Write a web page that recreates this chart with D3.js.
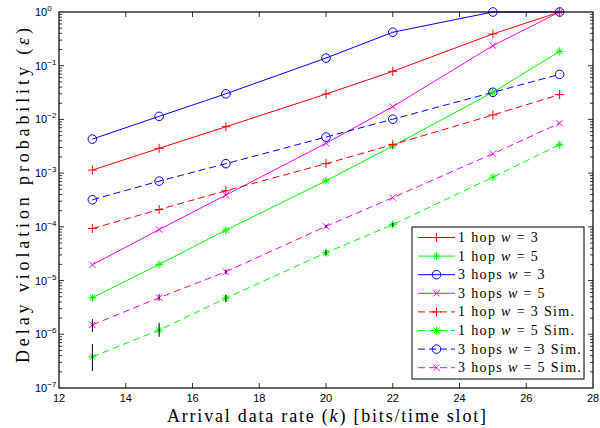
<!DOCTYPE html>
<html><head><meta charset="utf-8">
<script src="https://cdn.jsdelivr.net/npm/d3@7"></script>
<style>body{margin:0;background:#fff}svg{display:block}</style>
</head><body>
<svg id="c" width="600" height="428"></svg>
<script>
const rates = [13, 15, 17, 20, 22, 25, 27];
const oneHopW3 = [1.14e-3, 2.9e-3, 7.3e-3, 0.0297, 0.0785, 0.39, 1.0];
const oneHopW5 = [4.8e-6, 2.0e-5, 8.7e-5, 7.2e-4, 3.2e-3, 0.032, 0.185];
const threeHopsW3 = [4.3e-3, 0.0114, 0.030, 0.139, 0.42, 1.0, 1.0];
const threeHopsW5 = [1.97e-5, 8.9e-5, 3.9e-4, 3.6e-3, 0.0173, 0.236, 1.0];
const oneHopW3Sim = [9.3e-5, 2.1e-4, 4.7e-4, 1.5e-3, 3.4e-3, 0.0121, 0.029];
const oneHopW5Sim = [3.8e-7, 1.2e-6, 4.7e-6, 3.3e-5, 1.1e-4, 8.4e-4, 3.4e-3];
const threeHopsW3Sim = [3.2e-4, 7.1e-4, 1.5e-3, 4.7e-3, 0.0101, 0.032, 0.069];
const threeHopsW5Sim = [1.5e-6, 4.8e-6, 1.46e-5, 1.02e-4, 3.5e-4, 2.3e-3, 8.5e-3];
// error bars [low, high] for simulation series (null = not visible)
const oneHopW5SimErr = [[2.07e-7, 6.6e-7], [9.0e-7, 1.64e-6], [4.0e-6, 5.4e-6], [2.95e-5, 3.7e-5], [1.0e-4, 1.2e-4], null, null];
const threeHopsW5SimErr = [[1.11e-6, 1.92e-6], [4.2e-6, 5.6e-6], [1.3e-5, 1.6e-5], [0.95e-4, 1.09e-4], null, null, null];
const xTicks = [12, 14, 16, 18, 20, 22, 24, 26, 28];
const yExps = [0, -1, -2, -3, -4, -5, -6, -7];
const legendLabels = ["1 hop|3", "1 hop|5", "3 hops|3", "3 hops|5", "1 hop|3| Sim.", "1 hop|5| Sim.", "3 hops|3| Sim.", "3 hops|5| Sim."];

const series = [
  {v: oneHopW3, c: "#ff0000", m: "plus", d: false},
  {v: oneHopW5, c: "#00ff00", m: "star", d: false},
  {v: threeHopsW3, c: "#0000ff", m: "circle", d: false},
  {v: threeHopsW5, c: "#ff00ff", m: "x", d: false},
  {v: oneHopW3Sim, c: "#ff0000", m: "plus", d: true},
  {v: oneHopW5Sim, c: "#00ff00", m: "star", d: true, err: oneHopW5SimErr},
  {v: threeHopsW3Sim, c: "#0000ff", m: "circle", d: true},
  {v: threeHopsW5Sim, c: "#ff00ff", m: "x", d: true, err: threeHopsW5SimErr},
];

const L = 59, R = 593, T = 12, B = 388;
const svg = d3.select("#c");
const x = d3.scaleLinear().domain([12, 28]).range([L, R]);
const y = d3.scaleLog().domain([1e-7, 1]).range([B, T]);

svg.append("defs").append("clipPath").attr("id", "pc")
  .append("rect").attr("x", L - 6).attr("y", T - 6).attr("width", R - L + 12).attr("height", B - T + 12);

// ticks
const tg = svg.append("g").attr("stroke", "#000").attr("stroke-width", 0.8);
xTicks.forEach(t => {
  if (t === 12 || t === 28) return;
  tg.append("line").attr("x1", x(t)).attr("x2", x(t)).attr("y1", B).attr("y2", B - 5);
  tg.append("line").attr("x1", x(t)).attr("x2", x(t)).attr("y1", T).attr("y2", T + 5);
});
yExps.forEach(e => {
  if (e !== 0 && e !== -7) {
    tg.append("line").attr("x1", L).attr("x2", L + 5).attr("y1", y(Math.pow(10, e))).attr("y2", y(Math.pow(10, e)));
    tg.append("line").attr("x1", R).attr("x2", R - 5).attr("y1", y(Math.pow(10, e))).attr("y2", y(Math.pow(10, e)));
  }
  if (e > -7) {
    for (let k = 2; k <= 9; k++) {
      const yy = y(k * Math.pow(10, e - 1));
      tg.append("line").attr("x1", L).attr("x2", L + 3).attr("y1", yy).attr("y2", yy);
      tg.append("line").attr("x1", R).attr("x2", R - 3).attr("y1", yy).attr("y2", yy);
    }
  }
});

// tick labels
const lab = svg.append("g").attr("font-family", "Liberation Sans, Arial, sans-serif").attr("fill", "#000");
xTicks.forEach(t => {
  lab.append("text").attr("x", x(t)).attr("y", 402).attr("text-anchor", "middle").attr("font-size", 11).text(t);
});
yExps.forEach(e => {
  const yy = y(Math.pow(10, e));
  const tx = lab.append("text").attr("x", 35).attr("y", yy + 4).attr("font-size", 11);
  tx.append("tspan").text("10");
  tx.append("tspan").attr("dy", -5).attr("font-size", 8).text(e === 0 ? "0" : "\u2212" + (-e));
});

// lines
const line = d3.line().x((d, i) => x(rates[i])).y(d => y(d));
const pg = svg.append("g").attr("clip-path", "url(#pc)");

function marker(g, type, cx, cy, color) {
  const s = g.append("g").attr("transform", `translate(${cx},${cy})`).attr("stroke", color).attr("fill", "none").attr("stroke-width", 1);
  if (type === "plus") {
    s.append("path").attr("d", "M-4.5,0H4.5M0,-4.5V4.5");
  } else if (type === "x") {
    s.append("path").attr("d", "M-3.2,-3.2L3.2,3.2M-3.2,3.2L3.2,-3.2");
  } else if (type === "circle") {
    s.append("circle").attr("r", 4.3);
  } else if (type === "star") {
    s.append("path").attr("d", "M-4,0H4M0,-4V4M-2.9,-2.9L2.9,2.9M-2.9,2.9L2.9,-2.9");
  }
}

series.forEach(s => {
  pg.append("path").attr("d", line(s.v)).attr("fill", "none").attr("stroke", s.c).attr("stroke-width", 1)
    .attr("stroke-dasharray", s.d ? "7,4" : null);
});
series.forEach(s => {
  s.v.forEach((v, i) => marker(pg, s.m, x(rates[i]), y(v), s.c));
});
series.forEach(s => {
  if (!s.err) return;
  s.err.forEach((e, i) => {
    if (!e) return;
    pg.append("line").attr("x1", x(rates[i])).attr("x2", x(rates[i])).attr("y1", y(e[0])).attr("y2", y(e[1]))
      .attr("stroke", "#000").attr("stroke-width", 1);
  });
});

// axes box
svg.append("rect").attr("x", L).attr("y", T).attr("width", R - L).attr("height", B - T)
  .attr("fill", "none").attr("stroke", "#000").attr("stroke-width", 1.2);

// axis labels
const serif = "Liberation Serif, Times New Roman, serif";
const xl = svg.append("text").attr("x", 167).attr("y", 421.5)
  .attr("font-family", serif).attr("font-size", 18).attr("fill", "#000")
  .attr("textLength", 319).attr("lengthAdjust", "spacing");
xl.append("tspan").text("Arrival data rate (");
xl.append("tspan").attr("font-style", "italic").text("k");
xl.append("tspan").text(") [bits/time slot]");

const yl = svg.append("text").attr("transform", `translate(29,363) rotate(-90)`)
  .attr("font-family", serif).attr("font-size", 18).attr("fill", "#000")
  .attr("textLength", 335).attr("lengthAdjust", "spacing");
yl.append("tspan").text("Delay violation probability (");
yl.append("tspan").attr("font-style", "italic").text("\u03b5");
yl.append("tspan").text(")");

// legend
const lg = svg.append("g");
lg.append("rect").attr("x", 412).attr("y", 227).attr("width", 172).attr("height", 152)
  .attr("fill", "#fff").attr("stroke", "#000").attr("stroke-width", 1);
series.forEach((s, i) => {
  const yy = 237.5 + i * 18.6;
  lg.append("line").attr("x1", 418).attr("x2", 455).attr("y1", yy).attr("y2", yy)
    .attr("stroke", s.c).attr("stroke-width", 1).attr("stroke-dasharray", s.d ? "7,4" : null);
  marker(lg, s.m, 436.5, yy, s.c);
  const parts = legendLabels[i].split("|");
  const t = lg.append("text").attr("x", 458).attr("y", yy + 4.5).attr("font-family", serif).attr("font-size", 14)
    .attr("letter-spacing", 1.35).attr("fill", "#000");
  t.append("tspan").text(parts[0] + " ");
  t.append("tspan").attr("font-style", "italic").text("w");
  t.append("tspan").text(" = " + parts[1] + (parts[2] || ""));
});
</script>
</body></html>
